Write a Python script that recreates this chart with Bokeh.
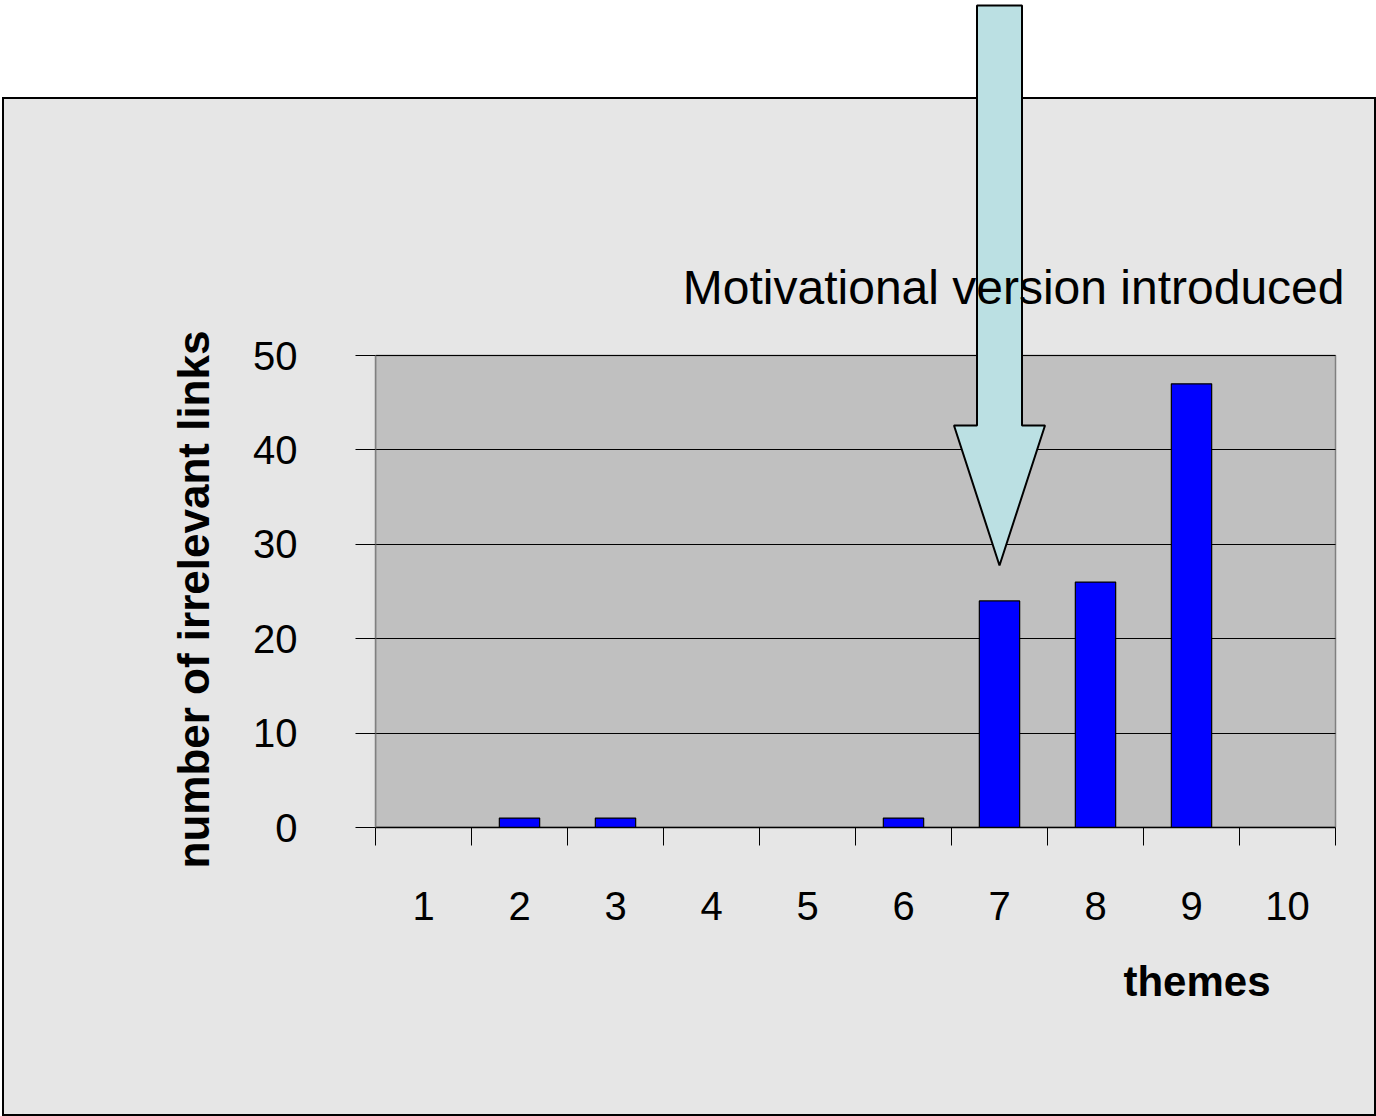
from bokeh.plotting import figure
from bokeh.models import Range1d, FixedTicker, Title, PolyAnnotation, Label
from bokeh.embed import file_html
from bokeh.resources import INLINE

# ---- data ----
themes = [1, 2, 3, 4, 5, 6, 7, 8, 9, 10]
irrelevant_links = [0, 1, 1, 0, 0, 1, 24, 26, 47, 0]
y_ticks = [0, 10, 20, 30, 40, 50]
x_tick_labels = [str(t) for t in themes]
y_tick_labels = [str(t) for t in y_ticks]
arrow_theme = 7
annotation_text = "Motivational version introduced"
x_title = "themes"
y_title = "number of irrelevant  links"

# ---- layout (pixels in the canvas) ----
W, H = 1376, 1116
PL, PR, PT, PB = 375, 1335, 355, 827      # grey plot area
FONT = "Liberation Sans"

x0, x1 = themes[0] - 0.5, themes[-1] + 0.5
y0, y1 = y_ticks[0], y_ticks[-1]


def dx(px):
    return x0 + (px - PL) * (x1 - x0) / (PR - PL)


def dy(py):
    return y0 + (PB - py) * (y1 - y0) / (PB - PT)


p = figure(width=W, height=H, output_backend="svg", toolbar_location=None, title=None,
           x_range=Range1d(x0, dx(W)), y_range=Range1d(y0, dy(0)),
           min_border_left=PL, min_border_right=0,
           min_border_top=0, min_border_bottom=H - PB)

p.background_fill_color = None
p.border_fill_color = None
p.outline_line_color = None

# outer framed box (page decoration behind the canvas)
p.styles = {
    "background": (
        "linear-gradient(#000,#000) 2px 97px / 1373px 2px no-repeat, "
        "linear-gradient(#000,#000) 2px 97px / 2px 1019px no-repeat, "
        "linear-gradient(#000,#000) 1374px 97px / 2px 1019px no-repeat, "
        "linear-gradient(#000,#000) 2px 1114px / 1373px 2px no-repeat, "
        "linear-gradient(#E6E6E6,#E6E6E6) 2px 97px / 1373px 1019px no-repeat, "
        "#FFFFFF"
    )
}

# grey plot area
p.quad(left=[x0], right=[x1], bottom=[y0], top=[y1], fill_color="#C0C0C0",
       line_color="#808080", line_width=1.5, level="image")

# grid lines
p.xgrid.visible = False
g = p.ygrid[0]
if "cross_bounds" in g.properties():
    g.ticker = FixedTicker(ticks=y_ticks)
    g.bounds = (y0, y1)
    g.cross_bounds = (x0, x1)
    g.grid_line_color = "black"
    g.grid_line_width = 1
else:
    g.visible = False
    p.segment(x0=[x0] * len(y_ticks), x1=[x1] * len(y_ticks), y0=y_ticks, y1=y_ticks,
              line_color="black", line_width=1)

# bars
p.vbar(x=themes, top=irrelevant_links, width=0.42, fill_color="#0000FF",
       line_color="black", line_width=1.2)

# arrow
sh = 22.5 * (x1 - x0) / (PR - PL)
hh = 45.5 * (x1 - x0) / (PR - PL)
y_tip, y_head, y_top = dy(565), dy(425), dy(5)
ax = arrow_theme
p.add_layout(PolyAnnotation(
    xs=[ax - sh, ax + sh, ax + sh, ax + hh, ax, ax - hh, ax - sh],
    ys=[y_top, y_top, y_head, y_head, y_tip, y_head, y_head],
    fill_color="#BBE0E3", fill_alpha=1, line_color="black", line_alpha=1, line_width=2))

# annotation text
p.add_layout(Label(x=dx(1344), y=dy(287), text=annotation_text, text_align="right",
                   text_baseline="alphabetic", text_font=FONT, text_font_size="48px",
                   text_color="black"))

# x axis
xa = p.xaxis[0]
xa.bounds = (x0, x1)
xa.ticker = FixedTicker(ticks=themes, minor_ticks=[t - 0.5 for t in themes] + [themes[-1] + 0.5])
xa.major_label_overrides = {t: l for t, l in zip(themes, x_tick_labels)}
xa.major_tick_line_color = None
xa.major_tick_out = 18
xa.major_tick_in = 0
xa.minor_tick_out = 18
xa.minor_tick_in = 0
xa.minor_tick_line_color = "black"
xa.minor_tick_line_width = 1
xa.axis_line_color = "black"
xa.axis_line_width = 1.5
xa.major_label_text_font = FONT
xa.major_label_text_font_size = "40px"
xa.major_label_text_color = "black"
xa.major_label_standoff = 46

# y axis
ya = p.yaxis[0]
ya.bounds = (y0, y1)
ya.ticker = FixedTicker(ticks=y_ticks)
ya.major_label_overrides = {t: l for t, l in zip(y_ticks, y_tick_labels)}
ya.major_tick_out = 20
ya.major_tick_in = 0
ya.major_tick_line_color = "black"
ya.minor_tick_line_color = None
ya.axis_line_color = "#808080"
ya.axis_line_width = 1.5
ya.major_label_text_font = FONT
ya.major_label_text_font_size = "40px"
ya.major_label_text_color = "black"
ya.major_label_standoff = 58

# axis titles
p.add_layout(Title(text=y_title, align="left", offset=-41, text_font=FONT,
                   text_font_size="44px", text_font_style="bold", text_color="black",
                   standoff=66), "left")
p.add_layout(Title(text=x_title, align="right", offset=W - 1270, text_font=FONT,
                   text_font_size="42px", text_font_style="bold", text_color="black",
                   standoff=67), "below")

open("out.html", "w").write(file_html(p, INLINE))
